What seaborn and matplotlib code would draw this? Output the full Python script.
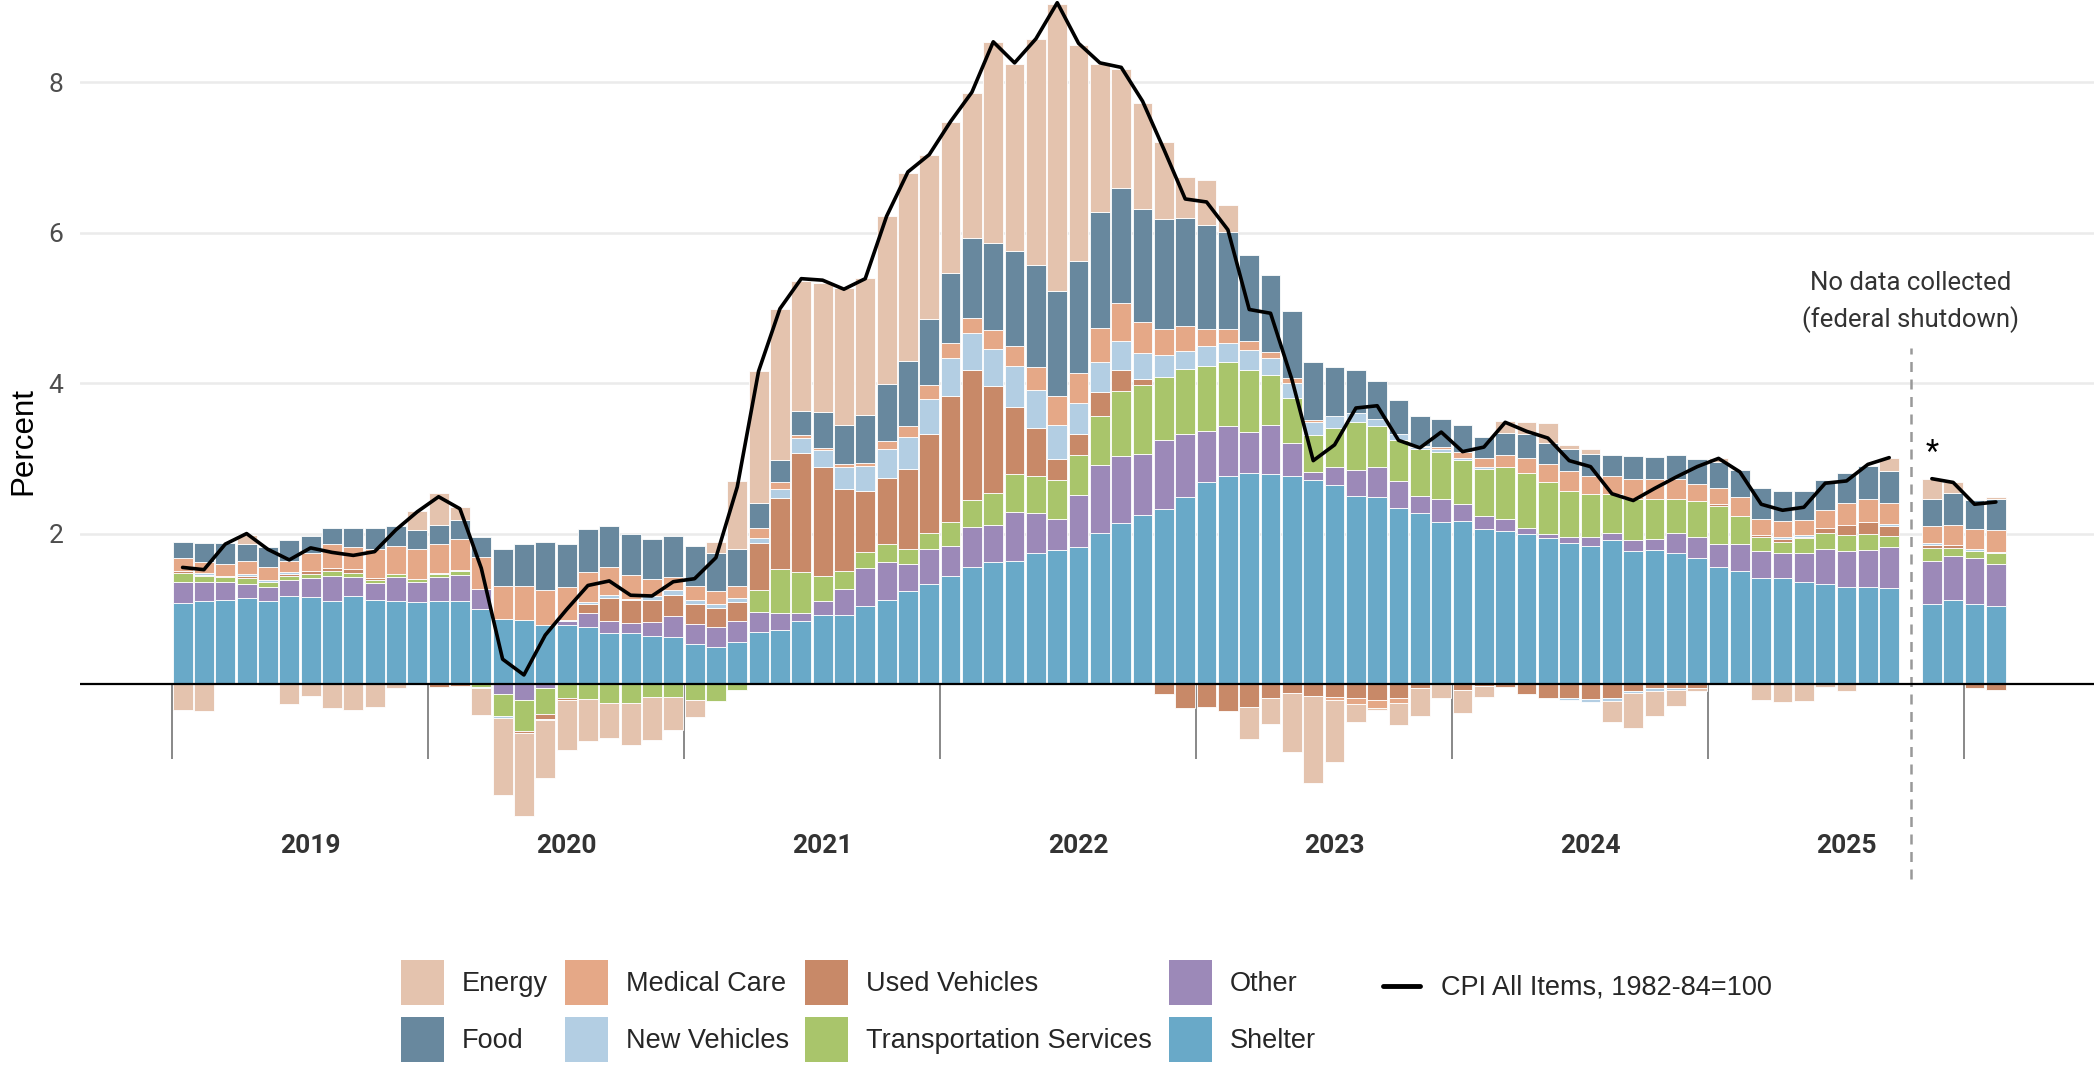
import numpy as np
import pandas as pd
import matplotlib
matplotlib.use("Agg")
import matplotlib.pyplot as plt
import seaborn as sns
from matplotlib.patches import Patch
from matplotlib.lines import Line2D

# Monthly contributions to year-over-year CPI inflation (percentage points),
# Jan 2019 .. Feb 2026. Oct 2025 was not collected (federal shutdown).
months = pd.date_range("2019-01-01", "2026-02-01", freq="MS")
NA = np.nan

shelter = [
    1.08, 1.11, 1.12, 1.145, 1.11, 1.17, 1.155, 1.11, 1.175, 1.12, 1.11, 1.09,
    1.10, 1.10, 1.00, 0.865, 0.857, 0.79, 0.78, 0.755, 0.68, 0.68, 0.644, 0.62,
    0.533, 0.488, 0.56, 0.69, 0.72, 0.834, 0.914, 0.923, 1.034, 1.123, 1.234, 1.336,
    1.434, 1.553, 1.62, 1.64, 1.74, 1.78, 1.82, 2.01, 2.14, 2.25, 2.33, 2.49,
    2.69, 2.77, 2.81, 2.79, 2.77, 2.71, 2.65, 2.50, 2.48, 2.34, 2.27, 2.15,
    2.17, 2.06, 2.04, 2.00, 1.94, 1.87, 1.84, 1.91, 1.77, 1.78, 1.74, 1.68,
    1.56, 1.50, 1.41, 1.41, 1.36, 1.33, 1.29, 1.29, 1.27, NA, 1.07, 1.12,
    1.07, 1.04,
]
other = [
    0.275, 0.25, 0.24, 0.19, 0.18, 0.21, 0.26, 0.33, 0.245, 0.22, 0.31, 0.27,
    0.325, 0.346, 0.26, -0.14, -0.21, -0.058, 0.062, 0.19, 0.164, 0.133, 0.182, 0.28,
    0.266, 0.266, 0.275, 0.266, 0.22, 0.111, 0.186, 0.342, 0.502, 0.502, 0.356, 0.464,
    0.40, 0.537, 0.49, 0.65, 0.54, 0.41, 0.69, 0.90, 0.89, 0.81, 0.91, 0.84,
    0.68, 0.66, 0.54, 0.66, 0.43, 0.11, 0.24, 0.35, 0.40, 0.36, 0.23, 0.31,
    0.22, 0.17, 0.15, 0.07, 0.06, 0.09, 0.11, 0.10, 0.14, 0.15, 0.27, 0.27,
    0.30, 0.36, 0.36, 0.33, 0.38, 0.46, 0.48, 0.49, 0.55, NA, 0.57, 0.58,
    0.61, 0.55,
]
transportation = [
    0.115, 0.07, 0.06, 0.075, 0.06, 0.06, 0.045, 0.06, 0.05, 0.045, 0.045, 0.04,
    0.04, 0.053, -0.045, -0.29, -0.42, -0.342, -0.186, -0.20, -0.253, -0.253, -0.178, -0.178,
    -0.21, -0.222, -0.075, 0.30, 0.59, 0.55, 0.34, 0.235, 0.217, 0.23, 0.21, 0.21,
    0.317, 0.36, 0.43, 0.50, 0.48, 0.52, 0.54, 0.66, 0.87, 0.91, 0.84, 0.86,
    0.86, 0.85, 0.82, 0.66, 0.60, 0.49, 0.52, 0.63, 0.55, 0.54, 0.62, 0.62,
    0.59, 0.63, 0.69, 0.73, 0.68, 0.61, 0.57, 0.52, 0.55, 0.53, 0.45, 0.48,
    0.51, 0.38, 0.19, 0.15, 0.20, 0.22, 0.21, 0.22, 0.15, NA, 0.17, 0.11,
    0.09, 0.15,
]
used_vehicles = [
    0.035, 0.02, 0.01, 0.03, -0.02, 0.025, 0.045, 0.045, 0.055, 0.03, 0.0, 0.0,
    -0.045, -0.03, 0.0, 0.0, -0.02, -0.067, -0.031, 0.124, 0.293, 0.31, 0.297, 0.28,
    0.27, 0.25, 0.257, 0.62, 0.94, 1.58, 1.45, 1.09, 0.81, 0.888, 1.06, 1.32,
    1.68, 1.72, 1.42, 0.90, 0.64, 0.28, 0.27, 0.31, 0.28, 0.08, -0.13, -0.32,
    -0.31, -0.355, -0.30, -0.19, -0.12, -0.155, -0.17, -0.18, -0.21, -0.19, -0.05, 0.0,
    -0.08, -0.03, -0.04, -0.13, -0.19, -0.19, -0.20, -0.19, -0.09, -0.06, -0.06, -0.05,
    0.02, 0.0, 0.02, 0.04, 0.02, 0.07, 0.13, 0.15, 0.13, NA, 0.04, 0.04,
    -0.05, -0.08,
]
new_vehicles = [
    0.0, 0.02, 0.01, 0.02, 0.03, 0.02, 0.0, 0.0, 0.0, 0.0, 0.0, 0.0,
    0.013, 0.02, -0.01, -0.027, 0.0, -0.018, 0.013, 0.018, 0.04, 0.013, 0.044, 0.075,
    0.053, 0.053, 0.053, 0.067, 0.12, 0.19, 0.22, 0.295, 0.34, 0.377, 0.43, 0.46,
    0.50, 0.50, 0.50, 0.54, 0.51, 0.45, 0.42, 0.40, 0.38, 0.35, 0.30, 0.24,
    0.26, 0.26, 0.27, 0.22, 0.20, 0.17, 0.15, 0.12, 0.10, 0.09, 0.03, 0.04,
    0.03, 0.02, 0.0, 0.0, 0.0, -0.02, -0.04, -0.04, -0.03, -0.03, -0.02, 0.0,
    0.0, 0.0, 0.0, 0.02, 0.02, 0.0, 0.0, 0.0, 0.03, NA, 0.02, 0.0,
    0.02, 0.02,
]
medical_care = [
    0.165, 0.15, 0.155, 0.17, 0.18, 0.155, 0.235, 0.31, 0.30, 0.38, 0.37, 0.40,
    0.39, 0.41, 0.43, 0.44, 0.444, 0.457, 0.435, 0.40, 0.377, 0.31, 0.235, 0.164,
    0.178, 0.178, 0.164, 0.133, 0.09, 0.04, 0.025, 0.035, 0.03, 0.117, 0.14, 0.18,
    0.21, 0.20, 0.25, 0.27, 0.30, 0.39, 0.40, 0.45, 0.50, 0.41, 0.34, 0.33,
    0.23, 0.18, 0.12, 0.09, 0.07, 0.03, -0.04, -0.08, -0.11, -0.06, 0.02, 0.03,
    0.08, 0.12, 0.17, 0.21, 0.24, 0.26, 0.25, 0.23, 0.26, 0.27, 0.26, 0.23,
    0.22, 0.25, 0.21, 0.22, 0.20, 0.24, 0.30, 0.31, 0.28, NA, 0.23, 0.26,
    0.27, 0.29,
]
food = [
    0.22, 0.25, 0.275, 0.23, 0.26, 0.28, 0.23, 0.22, 0.245, 0.28, 0.27, 0.25,
    0.25, 0.245, 0.26, 0.49, 0.564, 0.644, 0.573, 0.58, 0.546, 0.55, 0.52, 0.546,
    0.533, 0.51, 0.48, 0.333, 0.30, 0.32, 0.485, 0.52, 0.64, 0.75, 0.86, 0.89,
    0.93, 1.06, 1.16, 1.26, 1.365, 1.39, 1.48, 1.55, 1.53, 1.51, 1.47, 1.44,
    1.38, 1.29, 1.14, 1.02, 0.89, 0.77, 0.66, 0.57, 0.50, 0.44, 0.40, 0.38,
    0.35, 0.29, 0.29, 0.31, 0.29, 0.29, 0.29, 0.28, 0.31, 0.29, 0.32, 0.33,
    0.34, 0.35, 0.41, 0.39, 0.39, 0.39, 0.39, 0.44, 0.42, NA, 0.36, 0.43,
    0.39, 0.41,
]
energy = [
    -0.34, -0.36, 0.0, 0.12, 0.0, -0.26, -0.155, -0.32, -0.35, -0.31, -0.06, 0.245,
    0.42, 0.186, -0.36, -1.02, -1.10, -0.76, -0.66, -0.555, -0.47, -0.564, -0.564, -0.43,
    -0.23, 0.146, 0.91, 1.75, 2.01, 1.74, 1.71, 1.83, 1.82, 2.235, 2.51, 2.17,
    2.00, 1.93, 2.67, 2.49, 3.00, 3.82, 2.88, 1.97, 1.59, 1.41, 1.02, 0.54,
    0.60, 0.36, -0.43, -0.34, -0.79, -1.16, -0.83, -0.25, -0.02, -0.30, -0.37, -0.18,
    -0.30, -0.14, 0.16, 0.17, 0.26, 0.06, 0.07, -0.27, -0.47, -0.34, -0.21, -0.05,
    0.05, 0.0, -0.21, -0.24, -0.22, -0.04, -0.09, 0.0, 0.17, NA, 0.27, 0.14,
    0.0, 0.03,
]
cpi_all_items = [
    1.55, 1.52, 1.86, 2.00, 1.79, 1.65, 1.81, 1.75, 1.71, 1.76, 2.05, 2.29,
    2.49, 2.33, 1.54, 0.33, 0.12, 0.65, 0.99, 1.31, 1.37, 1.18, 1.17, 1.36,
    1.40, 1.68, 2.62, 4.16, 4.99, 5.39, 5.37, 5.25, 5.39, 6.22, 6.81, 7.04,
    7.48, 7.87, 8.54, 8.26, 8.58, 9.06, 8.52, 8.26, 8.20, 7.75, 7.11, 6.45,
    6.41, 6.04, 4.98, 4.93, 4.05, 2.97, 3.18, 3.67, 3.70, 3.24, 3.14, 3.35,
    3.09, 3.15, 3.48, 3.36, 3.27, 2.97, 2.89, 2.53, 2.44, 2.60, 2.75, 2.89,
    3.00, 2.82, 2.39, 2.31, 2.35, 2.67, 2.70, 2.92, 3.01, NA, 2.73, 2.68,
    2.39, 2.42,
]

years = ["2019", "2020", "2021", "2022", "2023", "2024", "2025"]

# stacking order, bottom (nearest zero) first
components = {
    "Shelter": shelter,
    "Other": other,
    "Transportation Services": transportation,
    "Used Vehicles": used_vehicles,
    "New Vehicles": new_vehicles,
    "Medical Care": medical_care,
    "Food": food,
    "Energy": energy,
}
colors = {
    "Energy": "#E4C3AE",
    "Food": "#68889E",
    "Medical Care": "#E5A887",
    "New Vehicles": "#B3CEE3",
    "Used Vehicles": "#C88968",
    "Transportation Services": "#A9C56B",
    "Other": "#9C89B8",
    "Shelter": "#69A9C8",
}
legend_order = ["Energy", "Food", "Medical Care", "New Vehicles",
                "Used Vehicles", "Transportation Services", "Other", "Shelter"]

sns.set_theme(style="white")
plt.rcParams["font.family"] = ["Liberation Sans", "DejaVu Sans"]

W, H = 2094, 1067
fig = plt.figure(figsize=(W / 100, H / 100), dpi=100)
ax = fig.add_axes([80 / W, 1 - 890 / H, (W - 80) / W, 890 / H])

x = np.arange(len(months))
df = pd.DataFrame(components, index=x)

pos_base = np.zeros(len(x))
neg_base = np.zeros(len(x))
for name in components:
    v = df[name].fillna(0).to_numpy()
    pos = np.where(v > 0, v, 0.0)
    neg = np.where(v < 0, v, 0.0)
    for part, base in ((pos, pos_base), (neg, neg_base)):
        keep = part != 0
        ax.bar(x[keep], part[keep], bottom=base[keep], width=0.93,
               color=colors[name], edgecolor="white", linewidth=0.6, zorder=2)
    pos_base += pos
    neg_base += neg

# CPI line, broken at the missing month
line_df = pd.DataFrame({"x": x, "cpi": cpi_all_items})
segment = line_df["cpi"].isna().cumsum()
for _, part in line_df.dropna().groupby(segment[line_df["cpi"].notna()]):
    sns.lineplot(data=part, x="x", y="cpi", color="black", linewidth=2.6,
                 ax=ax, zorder=5, legend=False)

ax.axhline(0, color="black", lw=1.6, zorder=4)

# year separators below zero
ax.vlines(np.arange(8) * 12 - 0.5, -1.0, 0, color="#7F7F7F", lw=1.3, zorder=1)
for k, yr in enumerate(years):
    ax.text(6 + 12 * k, -2.15, yr, ha="center", va="center", fontsize=19,
            fontweight="bold", color="#333333", family="Roboto")

# shutdown marker
gap = 81
ax.plot([gap, gap], [-2.6, 4.47], color="#999999", lw=1.8,
        ls=(0, (4, 3)), zorder=3)
ax.text(gap, 5.33, "No data collected", ha="center", va="center",
        fontsize=18.5, color="#333333", family="Roboto")
ax.text(gap, 4.84, "(federal shutdown)", ha="center", va="center",
        fontsize=18.5, color="#333333", family="Roboto")
ax.text(gap + 1, 3.08, "*", ha="center", va="center", fontsize=22,
        color="black", family="Roboto")

ax.set_xlim(-4.81, 89.6)
ax.set_ylim(-2.74, 9.096)
ax.set_xticks([])
ax.set_yticks([2, 4, 6, 8])
ax.yaxis.grid(True, color="#EBEBEB", lw=1.8)
ax.set_axisbelow(True)
ax.tick_params(axis="y", length=0, pad=12, labelsize=19, labelcolor="#4D4D4D")
for lbl in ax.get_yticklabels():
    lbl.set_fontfamily("Roboto")
ax.set_xlabel("")
ax.set_ylabel("")
for sp in ax.spines.values():
    sp.set_visible(False)

fig.text(23 / W, 1 - 441 / H, "Percent", rotation=90, ha="center",
         va="center", fontsize=22.5, color="black")

handles = [Patch(facecolor=colors[n], edgecolor="none", label=n)
           for n in legend_order]
fig.legend(handles=handles, ncol=4, loc="upper left",
           bbox_to_anchor=(401 / W, 1 - 960 / H), frameon=False,
           fontsize=19.5, handlelength=1.59, handleheight=2.19,
           handletextpad=0.67, columnspacing=0.6, labelspacing=0.44,
           borderpad=0, borderaxespad=0)
fig.legend(handles=[Line2D([0], [0], color="black", lw=3.5)],
           labels=["CPI All Items, 1982-84=100"], loc="center left",
           bbox_to_anchor=(1383 / W, 1 - 988 / H), frameon=False,
           fontsize=19.5, handlelength=1.37, handletextpad=0.78,
           borderpad=0, borderaxespad=0)

fig.savefig("out.png", dpi=100)
